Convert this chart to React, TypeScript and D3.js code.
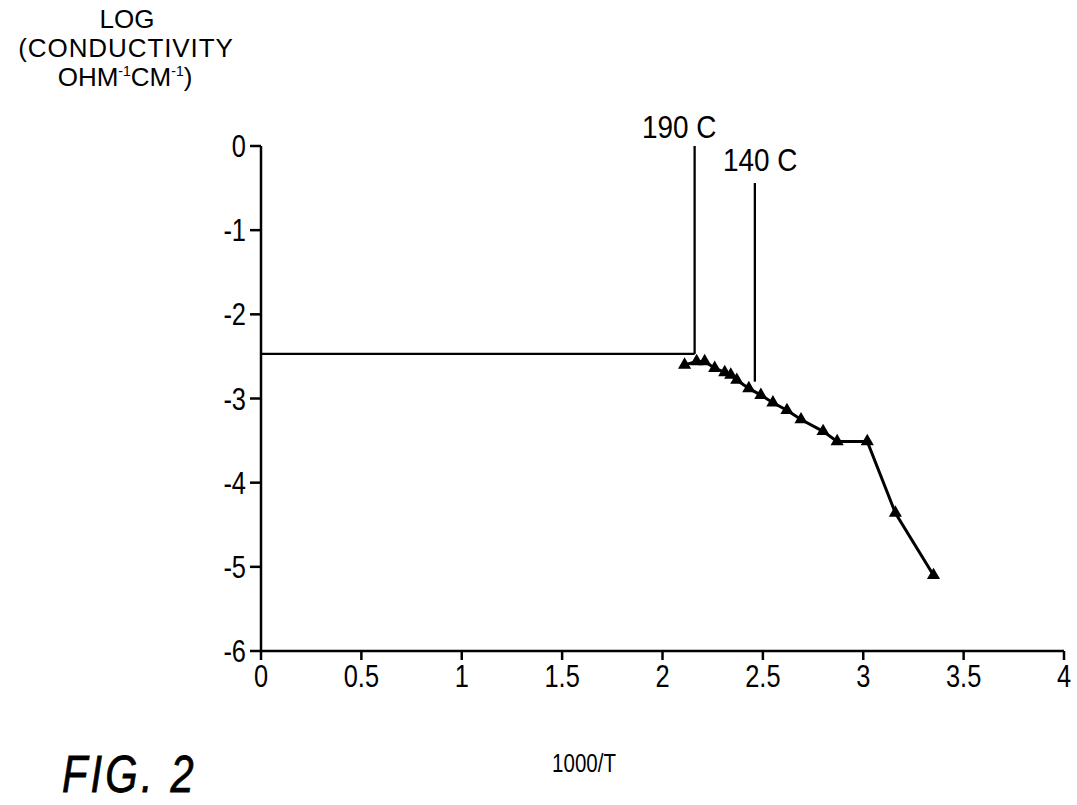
import * as d3 from "d3";

// 1000/T values and log conductivity
const xs = [2.11, 2.17, 2.21, 2.26, 2.31, 2.34, 2.37, 2.43, 2.49, 2.55, 2.62, 2.69, 2.8, 2.87, 3.02, 3.16, 3.35];
const logSigma = [-2.6, -2.56, -2.56, -2.64, -2.69, -2.72, -2.78, -2.88, -2.96, -3.05, -3.14, -3.25, -3.39, -3.51, -3.51, -4.36, -5.1];

const xTicks = [0, 0.5, 1, 1.5, 2, 2.5, 3, 3.5, 4];
const yTicks = [0, -1, -2, -3, -4, -5, -6];

// plateau line and the two temperature markers
const plateau = { x0: 0, x1: 2.16, y: -2.47 };
const markers = [
  { label: "190 C", x: 2.16, yTop: 0, yBottom: -2.47 },
  { label: "140 C", x: 2.46, yTop: -0.44, yBottom: -2.8 },
];

const W = 1077;
const H = 805;
const font = "'Liberation Sans', Arial, Helvetica, sans-serif";

// the scanned figure uses a condensed face, so squeeze the regular one
const Narrow = ({ x, y, anchor = "start", size, sx = 0.82, children }: any) => (
  <text
    transform={`translate(${x},${y}) scale(${sx},1)`}
    textAnchor={anchor}
    fontFamily={font}
    fontSize={size}
  >
    {children}
  </text>
);

export default function App() {
  const x = d3.scaleLinear().domain([0, 4]).range([261, 1064]);
  const y = d3.scaleLinear().domain([0, -6]).range([146, 651]);

  const line = d3
    .line<number>()
    .x((_, i) => x(xs[i]))
    .y((d) => y(d));

  const tri = d3.symbol().type(d3.symbolTriangle).size(75)();

  return (
    <svg
      width={W}
      height={H}
      style={{ position: "absolute", left: 0, top: 0, background: "#fff" }}
    >
      {/* y axis title */}
      <g fontFamily={font} fontSize={26} textAnchor="middle" fill="#000">
        <text x={127} y={28}>LOG</text>
        <text x={126} y={57} letterSpacing={0.9}>(CONDUCTIVITY</text>
        <text x={125} y={86}>
          OHM<tspan fontSize={14} dy={-10}>-1</tspan>
          <tspan dy={10}>CM</tspan>
          <tspan fontSize={14} dy={-10}>-1</tspan>
          <tspan dy={10}>)</tspan>
        </text>
      </g>

      {/* axes */}
      <g stroke="#000" strokeWidth={2.5} fill="none">
        <line x1={x(0)} x2={x(0)} y1={y(0)} y2={y(-6)} />
        <line x1={x(0)} x2={x(4)} y1={y(-6)} y2={y(-6)} />
        {yTicks.map((t) => (
          <line key={t} x1={x(0) - 11} x2={x(0)} y1={y(t)} y2={y(t)} />
        ))}
        {xTicks.map((t) => (
          <line key={t} x1={x(t)} x2={x(t)} y1={y(-6)} y2={y(-6) + 9} />
        ))}
      </g>

      <g fill="#000">
        {yTicks.map((t) => (
          <Narrow key={t} x={x(0) - 15} y={y(t) + 11} anchor="end" size={31}>
            {t === 0 ? "0" : "-" + Math.abs(t)}
          </Narrow>
        ))}
        {xTicks.map((t) => (
          <Narrow key={t} x={x(t)} y={y(-6) + 36} anchor="middle" size={31}>
            {t}
          </Narrow>
        ))}
      </g>

      {/* plateau and temperature markers */}
      <g stroke="#000" strokeWidth={2.3}>
        <line x1={x(plateau.x0)} x2={x(plateau.x1)} y1={y(plateau.y)} y2={y(plateau.y)} />
        {markers.map((m) => (
          <line key={m.label} x1={x(m.x)} x2={x(m.x)} y1={y(m.yTop)} y2={y(m.yBottom)} />
        ))}
      </g>
      <g fill="#000">
        <Narrow x={642} y={138} size={31} sx={0.9}>190 C</Narrow>
        <Narrow x={723} y={171} size={31} sx={0.9}>140 C</Narrow>
      </g>

      {/* data */}
      <path d={line(logSigma) ?? ""} fill="none" stroke="#000" strokeWidth={3} />
      {logSigma.map((v, i) => (
        <path key={i} d={tri ?? ""} transform={`translate(${x(xs[i])},${y(v)})`} fill="#000" />
      ))}

      <Narrow x={584} y={772} anchor="middle" size={25}>1000/T</Narrow>
      <g fill="#000" stroke="#000" strokeWidth={0.8} fontStyle="italic">
        <text
          transform="translate(62,792) scale(0.8,1)"
          fontFamily={font}
          fontSize={52}
          letterSpacing={4}
        >
          FIG. 2
        </text>
      </g>
    </svg>
  );
}
